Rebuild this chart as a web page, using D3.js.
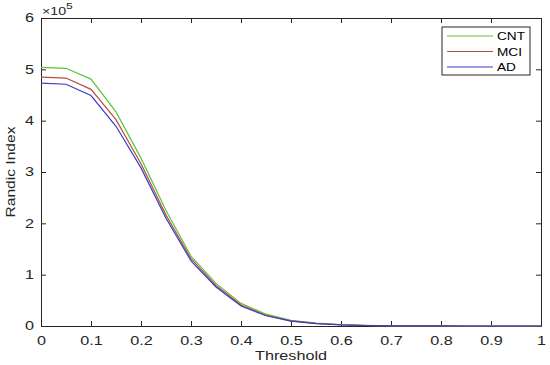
<!DOCTYPE html>
<html>
<head>
<meta charset="utf-8">
<script src="https://cdn.jsdelivr.net/npm/d3@7"></script>
<style>
  body { margin: 0; background: #fff; }
  text { font-family: "Liberation Sans", Arial, sans-serif; }
</style>
</head>
<body>
<div id="chart"></div>
<script>
// threshold values and Randic index (x 10^5) per group
const thresholds = [0, 0.05, 0.1, 0.15, 0.2, 0.25, 0.3, 0.35, 0.4, 0.45, 0.5,
  0.55, 0.6, 0.65, 0.7, 0.75, 0.8, 0.85, 0.9, 0.95, 1]
const cnt = [5.04, 5.02, 4.81, 4.17, 3.27, 2.25, 1.36, 0.83, 0.44, 0.23, 0.11,
  0.055, 0.027, 0.012, 0.005, 0.002, 0.001, 0, 0, 0, 0]
const mci = [4.85, 4.83, 4.61, 4.02, 3.16, 2.16, 1.31, 0.79, 0.41, 0.21, 0.1,
  0.05, 0.024, 0.01, 0.004, 0.002, 0.001, 0, 0, 0, 0]
const ad = [4.73, 4.71, 4.49, 3.89, 3.08, 2.1, 1.27, 0.76, 0.39, 0.2, 0.095,
  0.047, 0.022, 0.01, 0.004, 0.002, 0.001, 0, 0, 0, 0]
const seriesNames = ['CNT', 'MCI', 'AD']
const colors = ['#5ec43a', '#b5503a', '#3d3dc8']
const xTicks = [0, 0.1, 0.2, 0.3, 0.4, 0.5, 0.6, 0.7, 0.8, 0.9, 1]
const yTicks = [0, 1, 2, 3, 4, 5, 6]

const margin = { top: 18, left: 41, right: 9, bottom: 39 }
const width = 550 - margin.left - margin.right
const height = 365 - margin.top - margin.bottom

// the original text is wide, so stretch it horizontally
const stretch = 1.35

const svg = d3.select('#chart')
  .append('svg')
  .attr('width', width + margin.left + margin.right)
  .attr('height', height + margin.top + margin.bottom)

const g = svg.append('g')
  .attr('transform', 'translate(' + margin.left + ',' + margin.top + ')')

const x = d3.scaleLinear().domain([0, 1]).range([0, width])
const y = d3.scaleLinear().domain([0, 6]).range([height, 0])

// axes, matlab style: ticks inside, box on
const tickLen = 5
const axBottom = g.append('g')
  .attr('transform', 'translate(0,' + height + ')')
  .call(d3.axisBottom(x).tickValues(xTicks).tickSizeInner(-tickLen).tickSizeOuter(0)
    .tickPadding(10).tickFormat(d => d))
const axLeft = g.append('g')
  .call(d3.axisLeft(y).tickValues(yTicks).tickSizeInner(-tickLen).tickSizeOuter(0)
    .tickPadding(7).tickFormat(d => d))
const axTop = g.append('g')
  .call(d3.axisTop(x).tickValues(xTicks).tickSizeInner(-tickLen).tickSizeOuter(0).tickFormat(''))
const axRight = g.append('g')
  .attr('transform', 'translate(' + width + ',0)')
  .call(d3.axisRight(y).tickValues(yTicks).tickSizeInner(-tickLen).tickSizeOuter(0).tickFormat(''))

;[axBottom, axLeft, axTop, axRight].forEach(a => {
  a.select('.domain').attr('stroke', '#262626')
  a.selectAll('.tick line').attr('stroke', '#262626')
  a.selectAll('text').attr('font-size', 12).attr('fill', '#262626')
    .style('font-family', '"Liberation Sans", Arial, sans-serif')
})
axBottom.selectAll('text').attr('transform', 'scale(' + stretch + ',1)')
axLeft.selectAll('text')
  .attr('x', -7 / stretch)
  .attr('transform', 'scale(' + stretch + ',1)')

// lines
const data = [cnt, mci, ad]
const line = d3.line()
  .x((d, i) => x(thresholds[i]))
  .y(d => y(d))

g.selectAll('.series')
  .data(data)
  .enter()
  .append('path')
  .attr('class', 'series')
  .attr('fill', 'none')
  .attr('stroke', (d, i) => colors[i])
  .attr('stroke-width', 1.2)
  .attr('d', line)

// exponent label
const expo = svg.append('text')
  .attr('transform', 'translate(42,15) scale(' + stretch + ',1)')
  .attr('font-size', 10.5)
  .attr('fill', '#262626')
expo.append('tspan').text('\u00d710')
expo.append('tspan').attr('font-size', 9).attr('dy', -6).text('5')

// axis labels
svg.append('text')
  .attr('transform', 'translate(' + (margin.left + width / 2) + ',360) scale(' + stretch + ',1)')
  .attr('text-anchor', 'middle')
  .attr('font-size', 12)
  .attr('fill', '#262626')
  .text('Threshold')

svg.append('text')
  .attr('transform', 'translate(15,' + (margin.top + height / 2) + ') rotate(-90) scale(1.3,1)')
  .attr('text-anchor', 'middle')
  .attr('font-size', 12)
  .attr('fill', '#262626')
  .text('Randic Index')

// legend
const legend = svg.append('g').attr('transform', 'translate(442,27)')
legend.append('rect')
  .attr('width', 88)
  .attr('height', 48)
  .attr('fill', '#fff')
  .attr('stroke', '#262626')
  .attr('stroke-width', 1)

seriesNames.forEach((name, i) => {
  const row = legend.append('g').attr('transform', 'translate(0,' + (9 + i * 15.5) + ')')
  row.append('line')
    .attr('x1', 5).attr('x2', 51)
    .attr('stroke', colors[i])
    .attr('stroke-width', 1.2)
  row.append('text')
    .attr('transform', 'translate(55,4) scale(1.3,1)')
    .attr('font-size', 10.5)
    .attr('fill', '#000')
    .text(name)
})
</script>
</body>
</html>
